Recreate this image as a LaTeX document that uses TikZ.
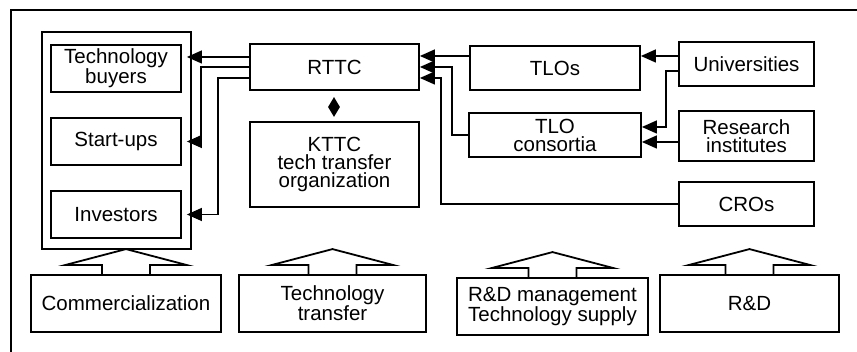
\documentclass[tikz,border=0pt]{standalone}
\usepackage{fontspec}
\setmainfont{Liberation Sans}
\usetikzlibrary{arrows.meta,shapes.geometric}

% open block arrow standing on top of a node
\newcommand{\liftarrow}[1]{%
  \draw[outline] (#1.north) ++(-24,0) -- ++(0,9) -- ++(-37,0) -- ++(61,16) -- ++(61,-16) -- ++(-37,0) -- ++(0,-9);}

\begin{document}
\begin{tikzpicture}[
    x=1pt, y=1pt,
    outline/.style={line width=1.8pt, line join=miter},
    block/.style={draw, outline, rectangle, inner sep=0pt, align=center, font=\fontsize{20.5}{18}\selectfont},
    flow/.style={line width=1.4pt, -{Triangle[length=15pt, width=13pt]}}
  ]
    \useasboundingbox (0,0) rectangle (857,352);
    \draw[line width=2pt] (11,0) -- (11,342) -- (857,342);

    \node[block, minimum width=149, minimum height=217] (market) at (116.5,211.5) {};
    \node[block, minimum width=130, minimum height=47] (buyers) at (116,283.5) {Technology\\buyers};
    \node[block, minimum width=130, minimum height=47] (startups) at (116,210.5) {Start-ups};
    \node[block, minimum width=130, minimum height=47] (investors) at (116,137.5) {Investors};
    \node[block, minimum width=169, minimum height=46] (rttc) at (334.5,285) {RTTC};
    \node[diamond, fill, inner sep=0pt, minimum width=12, minimum height=20] (link) at (334,245) {};
    \node[block, minimum width=169, minimum height=85] (kttc) at (334.5,187.5) {KTTC\\tech transfer\\organization};
    \node[block, minimum width=170, minimum height=44] (tlos) at (555,284) {TLOs};
    \node[block, minimum width=172, minimum height=44] (consortia) at (555,217) {TLO\\consortia};
    \node[block, minimum width=135, minimum height=44] (univ) at (746.5,288) {Universities};
    \node[block, minimum width=135, minimum height=50] (research) at (746.5,216) {Research\\institutes};
    \node[block, minimum width=135, minimum height=44] (cros) at (746.5,148) {CROs};
    \node[block, minimum width=190, minimum height=57] (comm) at (126,48.5) {Commercialization};
    \node[block, minimum width=187, minimum height=57] (transfer) at (332.5,48.5) {Technology\\transfer};
    \node[block, minimum width=191, minimum height=57] (rdmgmt) at (552.5,45.5) {R\&D management\\Technology supply};
    \node[block, minimum width=179, minimum height=57] (rd) at (749.5,48.5) {R\&D};

    \draw[flow, shorten >=5pt] ([yshift=10pt]rttc.west) coordinate (a) -- (a -| buyers.east);
    \draw[flow, shorten >=5pt] (rttc.west) -- ++(-48,0) |- (startups.east);
    \draw[flow, shorten >=5pt] ([yshift=-11pt]rttc.west) -- ++(-31,0) |- (investors.east);

    \draw[flow] ([yshift=12pt]tlos.west) coordinate (b) -- (b -| rttc.east);
    \draw[flow] (consortia.west) -- ++(-16,0) |- (rttc.east);
    \draw[flow] (cros.west) -- ++(-237,0) |- ([yshift=-11pt]rttc.east);
    \draw[flow] ([yshift=8pt]univ.west) coordinate (c) -- (c -| tlos.east);
    \draw[flow] ([yshift=-7pt]univ.west) -- ++(-12,0) |- ([yshift=8pt]consortia.east);
    \draw[flow] ([yshift=-6pt]research.west) coordinate (d) -- (d -| consortia.east);

    \liftarrow{comm}
    \liftarrow{transfer}
    \liftarrow{rdmgmt}
    \liftarrow{rd}
  \end{tikzpicture}
\end{document}
